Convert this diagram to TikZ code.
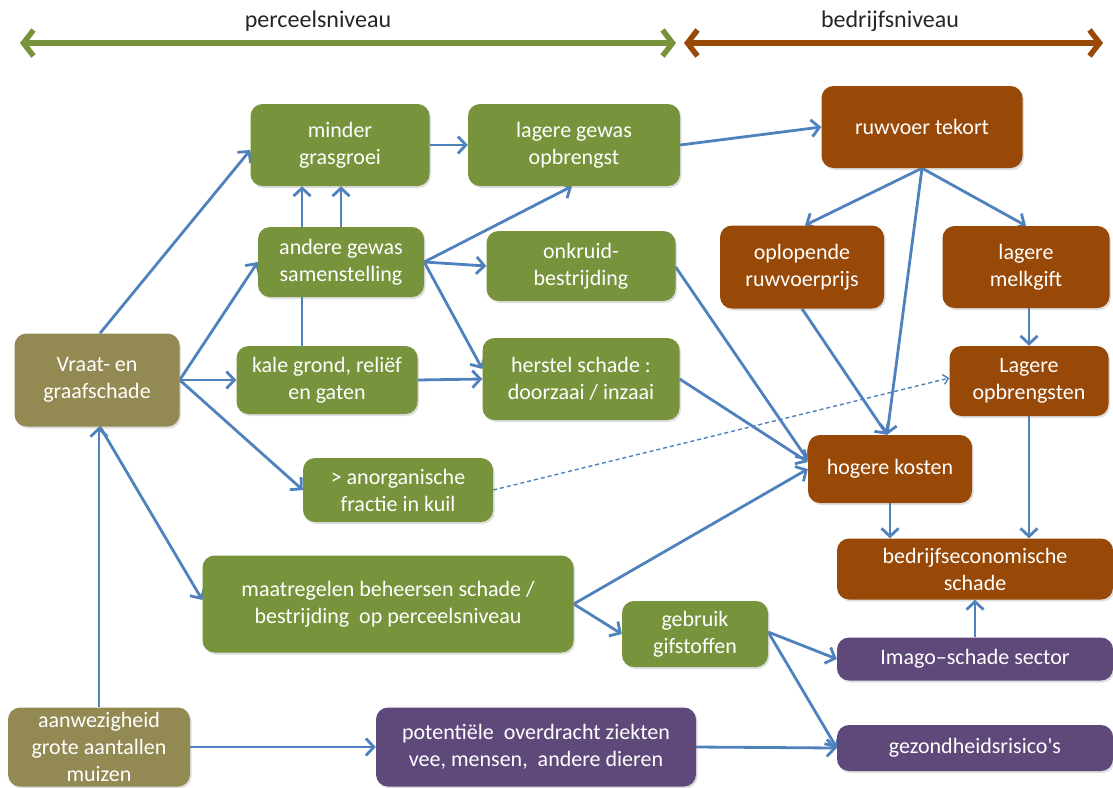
\documentclass[tikz,border=0pt]{standalone}
\usepackage{fontspec}
\setmainfont{Carlito}[Ligatures=TeXOff]
\usetikzlibrary{arrows.meta,shadows}
\definecolor{cgreen}{HTML}{77933C}
\definecolor{cbrown}{HTML}{984807}
\definecolor{colive}{HTML}{938953}
\definecolor{cpurple}{HTML}{5F497A}
\definecolor{cblue}{HTML}{4F81BD}
\definecolor{ctext}{HTML}{262626}
\pgfdeclarelayer{bg}
\pgfsetlayers{bg,main}
\begin{document}
\begin{tikzpicture}[x=1pt,y=-1pt,
  box/.style={rounded corners=12pt, text=white, align=center, inner sep=0pt,
    font=\fontsize{22}{27}\selectfont,
    drop shadow={opacity=0.25,shadow xshift=1.5pt,shadow yshift=-2pt}},
  gbox/.style={box, fill=cgreen},
  bbox/.style={box, fill=cbrown},
  obox/.style={box, fill=colive},
  pbox/.style={box, fill=cpurple},
  sz/.style n args={2}{minimum width=#1pt, minimum height=#2pt},
  arr/.style={draw=cblue, line width=2.8pt, -{Straight Barb[length=8pt,width=17pt,line width=2.8pt]}},
  darr/.style={draw=cblue, line width=1.4pt, dash pattern=on 4pt off 3pt, -{Straight Barb[length=5pt,width=10pt,line width=1.4pt]}},
  lvl/.style={line width=5.5pt, {Straight Barb[length=10pt,width=26pt,line width=5.5pt]}-{Straight Barb[length=10pt,width=26pt,line width=5.5pt]}},
  lbl/.style={text=ctext, font=\fontsize{24}{28}\selectfont, inner sep=0pt}
]
\useasboundingbox (0,0) rectangle (1113,787);

% level arrows
\coordinate (pl) at (20,43);
\coordinate (pr) at (676,43);
\coordinate (bl) at (684,43);
\coordinate (br) at (1103,43);
\draw[lvl, cgreen] (pl) -- (pr);
\draw[lvl, cbrown] (bl) -- (br);
\node[lbl] (perc) at (318,21) {perceelsniveau};
\node[lbl] (bedr0) at (890,21) {bedrijfsniveau};

% boxes
\node[obox, sz={165}{93}] (vraat) at (97,380) {Vraat- en\\graafschade};
\node[gbox, sz={179}{82}] (minder) at (340,145) {minder\\grasgroei};
\node[gbox, sz={212}{82}] (lagere) at (574,145) {lagere gewas\\opbrengst};
\node[bbox, sz={201}{82}] (ruwvoer) at (922,127) {ruwvoer tekort};
\node[gbox, sz={166}{70}] (andere) at (341,262) {andere gewas\\samenstelling};
\node[gbox, sz={189}{70}] (onkruid) at (581,266) {onkruid-\\bestrijding};
\node[bbox, sz={164}{83}] (oplop) at (802,267) {oplopende\\ruwvoerprijs};
\node[bbox, sz={167}{82}] (melk) at (1026,267) {lagere\\melkgift};
\node[gbox, sz={181}{68}] (kale) at (327,380) {kale grond, reliëf\\en gaten};
\node[gbox, sz={197}{82}] (herstel) at (581,379) {herstel schade :\\doorzaai / inzaai};
\node[bbox, sz={159}{70}] (lopbr) at (1029,381) {Lagere\\opbrengsten};
\node[gbox, sz={190}{64}] (anorg) at (398,490) {> anorganische\\fractie in kuil};
\node[bbox, sz={164}{68}] (hogere) at (890,469) {hogere kosten};
\node[bbox, sz={276}{61}] (bedr) at (975,569) {bedrijfseconomische\\schade};
\node[gbox, sz={371}{97}] (maatr) at (388,604) {maatregelen beheersen schade /\\bestrijding\ \ op perceelsniveau};
\node[gbox, sz={146}{66}] (gebruik) at (695,634) {gebruik\\gifstoffen};
\node[pbox, sz={276}{43}] (imago) at (975,659) {Imago–schade sector};
\node[obox, sz={182}{79}] (aanw) at (99,747) {aanwezigheid\\grote aantallen\\muizen};
\node[pbox, sz={320}{79}] (pot) at (536,747) {potentiële\ \ overdracht ziekten\\vee, mensen,\ \ andere dieren};
\node[pbox, sz={276}{46}] (gez) at (975,748) {gezondheidsrisico's};

% connectors
\begin{pgfonlayer}{bg}
\draw[arr] ([xshift=3pt]vraat.north) -- ([yshift=-5pt]minder.west);
\draw[arr] (vraat.east) -- (andere.west);
\draw[arr] (vraat.east) -- (kale.west);
\draw[arr] (vraat.east) -- (anorg.west);
\draw[arr] ([xshift=3pt]vraat.south) -- ([yshift=4pt]maatr.west);
\draw[arr] (aanw.north) -- (aanw.north |- vraat.south);
\draw[arr] (aanw.east) -- (pot.west);
\draw[arr] (pot.east) -- (gez.west);
\draw[arr] ([xshift=-25pt]kale.north) -- ([xshift=-25pt]kale.north |- minder.south);
\draw[arr] (andere.north) -- (andere.north |- minder.south);
\draw[arr] (andere.east) -- ([xshift=-2pt]lagere.south);
\draw[arr] (andere.east) -- (onkruid.west);
\draw[arr] (andere.east) -- ([yshift=10pt]herstel.west);
\draw[arr] (kale.east) -- (herstel.west);
\draw[arr] (minder.east) -- (lagere.west);
\draw[arr] (lagere.east) -- (ruwvoer.west);
\draw[arr] (ruwvoer.south) -- ([xshift=3pt]oplop.north);
\draw[arr] (ruwvoer.south) -- (melk.north);
\draw[arr] (ruwvoer.south) -- ([xshift=-3pt]hogere.north);
\draw[arr] (oplop.south) -- ([xshift=-3pt]hogere.north);
\draw[arr] ([yshift=-1pt]onkruid.east) -- ([yshift=9pt]hogere.west);
\draw[arr] (herstel.east) -- ([yshift=7pt]hogere.west);
\draw[arr] (maatr.east) -- (hogere.west);
\draw[arr] (maatr.east) -- (gebruik.west);
\draw[arr] ([xshift=3pt]melk.south) -- ([xshift=3pt]melk.south |- lopbr.north);
\draw[arr] (lopbr.south) -- (lopbr.south |- bedr.north);
\draw[arr] (hogere.south) -- (hogere.south |- bedr.north);
\draw[arr] (imago.north) -- (bedr.south);
\draw[arr] ([yshift=2pt]gebruik.east) -- (imago.west);
\draw[arr] ([yshift=2pt]gebruik.east) -- (gez.west);
\draw[darr] (anorg.east) -- ([yshift=3pt]lopbr.west);
\end{pgfonlayer}
\end{tikzpicture}
\end{document}
